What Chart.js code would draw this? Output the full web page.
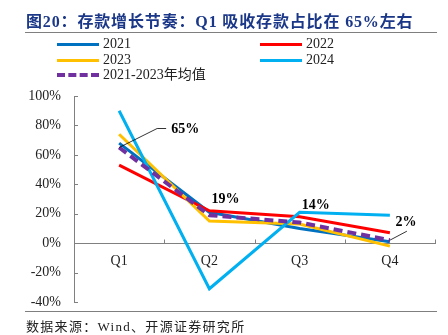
<!DOCTYPE html>
<html>
<head>
<meta charset="utf-8">
<script src="https://cdn.jsdelivr.net/npm/chart.js@4/dist/chart.umd.min.js"></script>
<style>
  html, body { margin: 0; padding: 0; background: #fff; }
  #wrap { position: relative; width: 448px; height: 335px; overflow: hidden; }
  #chart { position: absolute; left: 0; top: 0; }
  .serif { font-family: "Liberation Serif", "Noto Sans CJK SC", serif; }
  #title { position: absolute; left: 26px; top: 8px; font-size: 16px; font-weight: bold; color: #1b3788; letter-spacing: 0.85px; white-space: nowrap; }
  .rule { position: absolute; left: 25px; width: 412px; height: 0; border-top: 1.5px solid #7f7f7f; }
  #legend { position: absolute; left: 0; top: 36px; width: 448px; height: 48px; font-size: 14px; color: #222; }
  .item { position: absolute; height: 16px; line-height: 16px; white-space: nowrap; }
  .swatch { position: absolute; left: 0; top: 7px; width: 42px; height: 0; }
  .item span { position: absolute; left: 46px; top: 0; }
  #source { position: absolute; left: 26px; top: 316px; font-size: 13px; color: #222; letter-spacing: 1.3px; white-space: nowrap; }
</style>
</head>
<body>
<div id="wrap">
  <canvas id="chart" width="448" height="335"></canvas>
  <div id="title" class="serif">图20：存款增长节奏：Q1 吸收存款占比在 65%左右</div>
  <div class="rule" style="top:32px"></div>
  <div id="legend" class="serif"></div>
  <div class="rule" style="top:311px"></div>
  <div id="source" class="serif">数据来源：Wind、开源证券研究所</div>
</div>
<script>
// Quarterly share of annual deposit growth (%)
const quarters = ['Q1', 'Q2', 'Q3', 'Q4'];
const y2021 = [68, 21, 10, 1];
const y2022 = [53, 22, 18, 7];
const y2023 = [74, 15, 13, -2];
const y2024 = [90, -31, 21, 19];
const avg2123 = [65, 19, 14, 2];
const yTicks = [-40, -20, 0, 20, 40, 60, 80, 100];

const series = [
  { label: '2021', data: y2021, color: '#0070c0' },
  { label: '2022', data: y2022, color: '#ff0000' },
  { label: '2023', data: y2023, color: '#ffc000' },
  { label: '2024', data: y2024, color: '#00b0f0' },
  { label: '2021-2023年均值', data: avg2123, color: '#7030a0', dashed: true }
];

// Legend: two columns, average entry on its own row
const legendSlots = [[57, 0], [260, 0], [57, 1], [260, 1], [57, 2]];
const legendEl = document.getElementById('legend');
series.forEach((s, i) => {
  const [x, row] = legendSlots[i];
  const item = document.createElement('div');
  item.className = 'item';
  item.style.left = x + 'px';
  item.style.top = (row * 15.5) + 'px';
  const sw = document.createElement('div');
  sw.className = 'swatch';
  sw.style.borderTop = s.dashed ? '4px dashed ' + s.color : '3px solid ' + s.color;
  if (s.dashed) { sw.style.top = '6px'; }
  const tx = document.createElement('span');
  tx.textContent = s.label;
  item.appendChild(sw);
  item.appendChild(tx);
  legendEl.appendChild(item);
});

const FONT = '"Liberation Serif", "Noto Sans CJK SC", serif';

// Inward tick marks on both axes
const innerTicks = {
  id: 'innerTicks',
  afterDraw(chart) {
    const { ctx, scales: { x, y } } = chart;
    ctx.save();
    ctx.strokeStyle = '#808080';
    ctx.lineWidth = 1;
    ctx.beginPath();
    yTicks.forEach(v => {
      const py = Math.round(y.getPixelForValue(v)) + 0.5;
      ctx.moveTo(y.right, py);
      ctx.lineTo(y.right + 4, py);
    });
    const zero = Math.round(y.getPixelForValue(0)) + 0.5;
    for (let i = 0; i <= quarters.length; i++) {
      const px = Math.round(x.left + (x.right - x.left) * i / quarters.length) + 0.5;
      ctx.moveTo(px, zero);
      ctx.lineTo(px, zero - 4);
    }
    ctx.stroke();
    ctx.restore();
  }
};

// Value labels on the average line, with leader lines at Q1 and Q4
const labelOffsets = [[66, -18], [16, -16], [16, -17], [16, -18]];
const avgLabels = {
  id: 'avgLabels',
  afterDatasetsDraw(chart) {
    const { ctx } = chart;
    const meta = chart.getDatasetMeta(4);
    ctx.save();
    ctx.font = 'bold 14px ' + FONT;
    ctx.fillStyle = '#000';
    ctx.textAlign = 'center';
    ctx.textBaseline = 'middle';
    meta.data.forEach((pt, i) => {
      const [dx, dy] = labelOffsets[i];
      ctx.fillText(avg2123[i] + '%', pt.x + dx, pt.y + dy);
    });
    ctx.strokeStyle = '#000';
    ctx.lineWidth = 0.8;
    ctx.beginPath();
    const p0 = meta.data[0];
    ctx.moveTo(p0.x, p0.y);
    ctx.lineTo(p0.x + 38, p0.y - 19);
    ctx.lineTo(p0.x + 47, p0.y - 19);
    const p3 = meta.data[3];
    ctx.moveTo(p3.x, p3.y);
    ctx.lineTo(p3.x + 17, p3.y - 9);
    ctx.stroke();
    ctx.restore();
  }
};

new Chart(document.getElementById('chart'), {
  type: 'line',
  data: {
    labels: quarters,
    datasets: series.map((s, i) => ({
      label: s.label,
      data: s.data,
      borderColor: s.color,
      backgroundColor: s.color,
      borderWidth: s.dashed ? 4 : 3,
      borderDash: s.dashed ? [9, 5] : [],
      pointRadius: 0,
      tension: 0,
      order: s.dashed ? 0 : 5 - i
    }))
  },
  options: {
    responsive: false,
    animation: false,
    devicePixelRatio: 1,
    layout: { padding: { left: 0, right: 13, top: 96, bottom: 33 } },
    plugins: { legend: { display: false }, title: { display: false }, tooltip: { enabled: false } },
    scales: {
      x: {
        position: { y: 0 },
        offset: true,
        grid: { display: true, drawOnChartArea: false, drawTicks: false, color: '#808080' },
        border: { display: true, color: '#808080', width: 1 },
        ticks: { font: { family: FONT, size: 14 }, color: '#222', padding: 10 },
        afterFit(scale) { scale.height = 0; }
      },
      y: {
        min: -40,
        max: 100,
        afterBuildTicks(scale) { scale.ticks = yTicks.map(v => ({ value: v })); },
        grid: { display: false, drawTicks: false },
        border: { display: true, color: '#808080', width: 1 },
        ticks: { font: { family: FONT, size: 14 }, color: '#222', padding: 13, callback: v => v + '%' },
        afterFit(scale) { scale.width = 74; }
      }
    }
  },
  plugins: [innerTicks, avgLabels]
});
</script>
</body>
</html>
